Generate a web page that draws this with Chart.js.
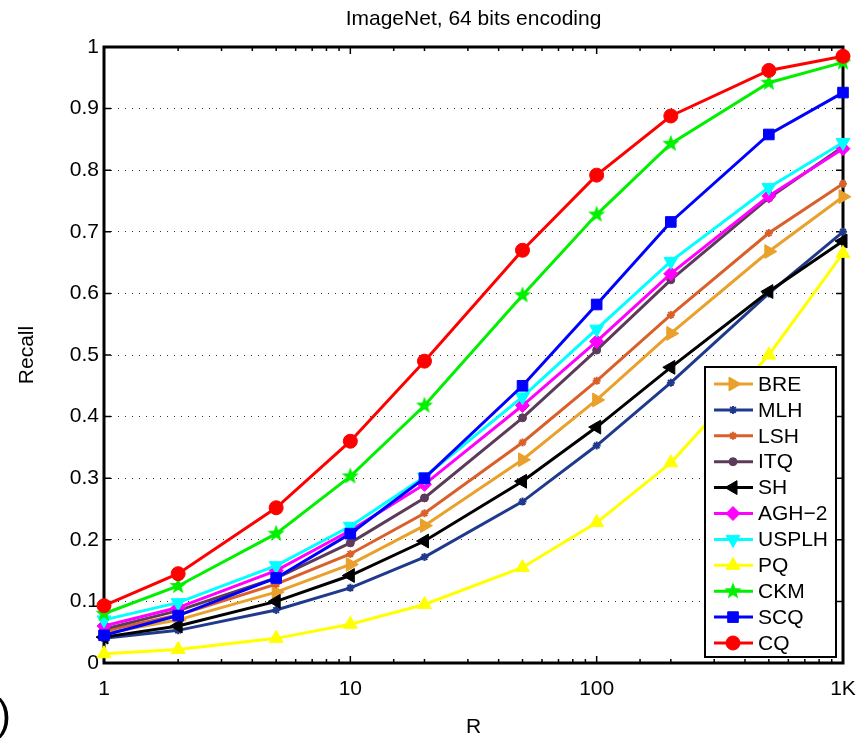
<!DOCTYPE html>
<html>
<head>
<meta charset="utf-8">
<script src="https://cdn.jsdelivr.net/npm/chart.js@4.4.0/dist/chart.umd.min.js"></script>
<style>
  html, body { margin: 0; padding: 0; background: #fff; }
</style>
</head>
<body>
<canvas id="chart" width="858" height="741"></canvas>
<script>
// number of retrieved items R (log axis)
const rValues = [1, 2, 5, 10, 20, 50, 100, 200, 500, 1000];

// recall, one array per method
const breRecall   = [0.048, 0.070, 0.115, 0.160, 0.223, 0.330, 0.427, 0.535, 0.668, 0.757];
const mlhRecall   = [0.040, 0.053, 0.086, 0.122, 0.172, 0.262, 0.353, 0.455, 0.600, 0.700];
const lshRecall   = [0.052, 0.078, 0.128, 0.177, 0.243, 0.358, 0.458, 0.565, 0.698, 0.778];
const itqRecall   = [0.055, 0.085, 0.138, 0.195, 0.268, 0.398, 0.508, 0.622, 0.755, 0.838];
const shRecall    = [0.042, 0.060, 0.100, 0.142, 0.198, 0.295, 0.383, 0.480, 0.603, 0.685];
const aghRecall   = [0.060, 0.090, 0.150, 0.215, 0.290, 0.418, 0.522, 0.632, 0.758, 0.835];
const usplhRecall = [0.070, 0.098, 0.158, 0.222, 0.302, 0.432, 0.542, 0.652, 0.772, 0.845];
const pqRecall    = [0.015, 0.022, 0.040, 0.063, 0.095, 0.155, 0.228, 0.325, 0.500, 0.665];
const ckmRecall   = [0.080, 0.125, 0.210, 0.303, 0.418, 0.597, 0.728, 0.843, 0.942, 0.975];
const scqRecall   = [0.045, 0.077, 0.138, 0.210, 0.300, 0.450, 0.582, 0.716, 0.858, 0.926];
const cqRecall    = [0.093, 0.145, 0.252, 0.360, 0.490, 0.670, 0.792, 0.888, 0.962, 0.985];

const xMajor = [1, 10, 100, 1000];
const xMajorLabels = ['1', '10', '100', '1K'];
const yTicks = [0, 0.1, 0.2, 0.3, 0.4, 0.5, 0.6, 0.7, 0.8, 0.9, 1];

const FONT = "'Liberation Sans', Arial, Helvetica, sans-serif";
Chart.defaults.font.family = FONT;
Chart.defaults.color = '#000';

// five point star for CKM
function makeStar(color, r) {
    const c = document.createElement('canvas');
    const s = Math.ceil(r * 2 + 2);
    c.width = s; c.height = s;
    const g = c.getContext('2d');
    g.fillStyle = color;
    g.beginPath();
    for (let i = 0; i < 10; i++) {
        const rad = i % 2 === 0 ? r : r * 0.42;
        const a = -Math.PI / 2 + i * Math.PI / 5;
        const px = s / 2 + rad * Math.cos(a), py = s / 2 + rad * Math.sin(a);
        if (i === 0) g.moveTo(px, py); else g.lineTo(px, py);
    }
    g.closePath();
    g.fill();
    return c;
}

function series(label, values, color, style, radius, rotation) {
    return {
        label: label,
        data: values.map((v, i) => ({ x: rValues[i], y: v })),
        borderColor: color,
        backgroundColor: color,
        borderWidth: 3,
        pointStyle: style,
        pointRadius: radius,
        pointRotation: rotation || 0,
        pointBorderWidth: style === 'star' ? 2 : 1,
        pointBorderColor: color,
        pointBackgroundColor: color,
        tension: 0,
        clip: false
    };
}

const datasets = [
    series('BRE', breRecall, '#E9A12C', 'triangle', 8, 90),
    series('MLH', mlhRecall, '#1F3A8C', 'star', 4),
    series('LSH', lshRecall, '#D9602A', 'star', 4),
    series('ITQ', itqRecall, '#5C3A5A', 'circle', 4),
    series('SH', shRecall, '#000000', 'triangle', 8, -90),
    series('AGH\u22122', aghRecall, '#FF00FF', 'rectRot', 7),
    series('USPLH', usplhRecall, '#00FFFF', 'triangle', 8, 180),
    series('PQ', pqRecall, '#FFFF00', 'triangle', 8, 0),
    series('CKM', ckmRecall, '#00F000', makeStar('#00F000', 9), 9),
    series('SCQ', scqRecall, '#0000FF', 'rect', 7.5),
    series('CQ', cqRecall, '#FF0000', 'circle', 7)
];
// later methods are drawn on top, like the original
datasets.forEach((d, i) => { d.order = datasets.length - i; });

// frame with inward tick marks
const frameTicks = {
    id: 'frameTicks',
    beforeDatasetsDraw(chart) {
        const { ctx, chartArea: a, scales: { x, y } } = chart;
        ctx.save();
        ctx.strokeStyle = '#000';
        ctx.lineWidth = 1.5;
        ctx.beginPath();
        x.ticks.forEach(t => {
            const px = x.getPixelForValue(t.value);
            const len = xMajor.includes(t.value) ? 7 : 4;
            ctx.moveTo(px, a.top); ctx.lineTo(px, a.top + len);
            ctx.moveTo(px, a.bottom); ctx.lineTo(px, a.bottom - len);
        });
        y.ticks.forEach(t => {
            const py = y.getPixelForValue(t.value);
            ctx.moveTo(a.left, py); ctx.lineTo(a.left + 7, py);
            ctx.moveTo(a.right, py); ctx.lineTo(a.right - 7, py);
        });
        ctx.stroke();
        ctx.lineWidth = 3;
        ctx.strokeRect(a.left, a.top, a.right - a.left, a.bottom - a.top);
        ctx.restore();
    }
};

// boxed legend in the lower right corner, plus the title
const boxLegend = {
    id: 'boxLegend',
    afterDraw(chart) {
        const { ctx, chartArea: a } = chart;
        const sets = chart.data.datasets;
        const w = 131, h = 290, rowH = 25.9;
        const left = a.right - 7 - w, top = a.bottom - 6 - h;
        ctx.save();
        ctx.fillStyle = '#fff';
        ctx.fillRect(left, top, w, h);
        ctx.lineWidth = 2;
        ctx.strokeStyle = '#000';
        ctx.strokeRect(left, top, w, h);
        ctx.font = '21px ' + FONT;
        ctx.textBaseline = 'middle';
        ctx.textAlign = 'left';
        sets.forEach((ds, i) => {
            const cy = top + 17 + i * rowH;
            ctx.strokeStyle = ds.borderColor;
            ctx.lineWidth = 3;
            ctx.beginPath();
            ctx.moveTo(left + 9, cy); ctx.lineTo(left + 48, cy);
            ctx.stroke();
            ctx.fillStyle = ds.borderColor;
            ctx.lineWidth = ds.pointBorderWidth;
            Chart.helpers.drawPoint(ctx, {
                pointStyle: ds.pointStyle,
                rotation: ds.pointRotation,
                radius: ds.pointRadius,
                borderWidth: ds.pointBorderWidth
            }, left + 28, cy);
            ctx.fillStyle = '#000';
            ctx.fillText(ds.label, left + 53, cy + 1);
        });

        ctx.fillStyle = '#000';
        ctx.textAlign = 'center';
        ctx.font = '21px ' + FONT;
        ctx.fillText('ImageNet, 64 bits encoding', (a.left + a.right) / 2, 19);
        ctx.textAlign = 'left';
        ctx.font = '42px ' + FONT;
        ctx.fillText(')', -3, 717);
        ctx.restore();
    }
};

new Chart(document.getElementById('chart'), {
    type: 'line',
    data: { datasets: datasets },
    options: {
        responsive: false,
        animation: false,
        layout: { padding: { left: 0, top: 47, right: 15, bottom: 0 } },
        plugins: {
            legend: { display: false },
            tooltip: { enabled: false }
        },
        scales: {
            x: {
                type: 'logarithmic',
                min: 1,
                max: 1000,
                grid: { display: false },
                border: { display: false },
                ticks: {
                    autoSkip: false,
                    maxRotation: 0,
                    padding: 6,
                    font: { size: 21 },
                    callback: v => {
                        const k = xMajor.indexOf(v);
                        return k >= 0 ? xMajorLabels[k] : '';
                    }
                },
                title: { display: true, text: 'R', font: { size: 21 }, padding: { top: 0, bottom: 1 } },
                afterFit: s => {
                    s.height = 78;
                    s.paddingLeft = 0;
                    s.paddingRight = 0;
                }
            },
            y: {
                min: 0,
                max: 1,
                afterBuildTicks: s => { s.ticks = yTicks.map(v => ({ value: v })); },
                grid: { color: '#333', lineWidth: 1, drawTicks: false },
                border: { display: false, dash: [1, 6] },
                ticks: {
                    padding: 5,
                    font: { size: 21 },
                    callback: v => (v === 0 || v === 1) ? String(v) : v.toFixed(1)
                },
                title: { display: true, text: 'Recall', font: { size: 21 }, padding: { top: 15, bottom: 0 } },
                afterFit: s => {
                    s.width = 104;
                    s.paddingTop = 0;
                    s.paddingBottom = 0;
                }
            }
        }
    },
    plugins: [frameTicks, boxLegend]
});
</script>
</body>
</html>
